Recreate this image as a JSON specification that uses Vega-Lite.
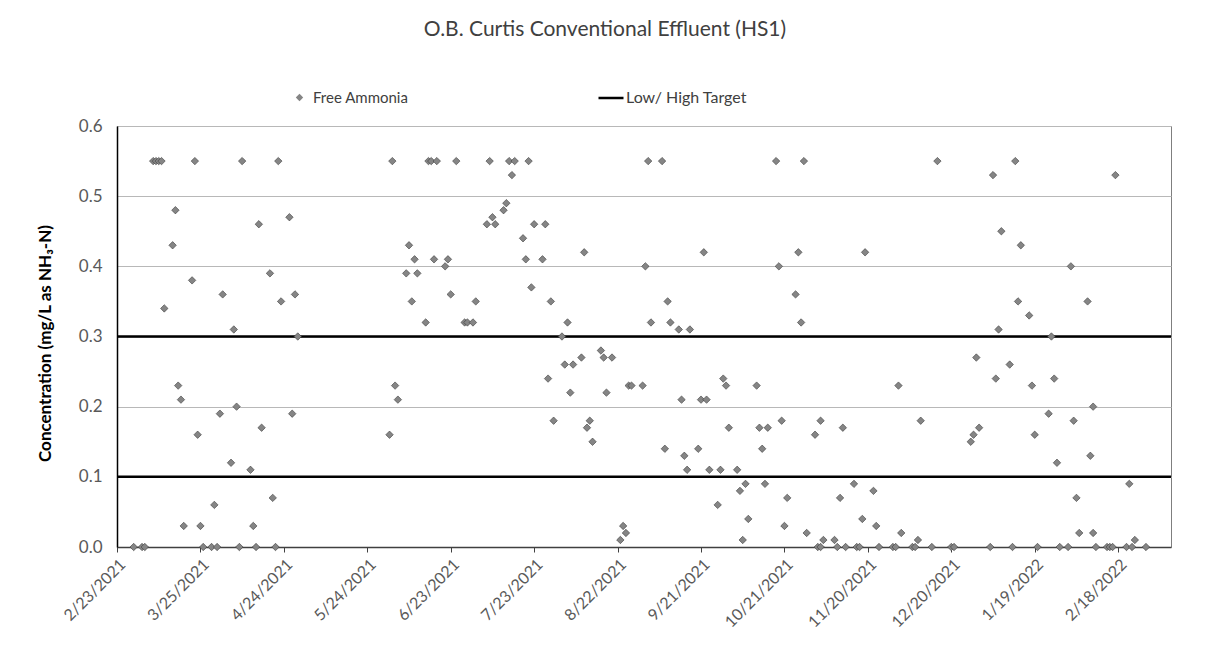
{
  "$schema": "https://vega.github.io/schema/vega-lite/v6.json",
  "width": 1054,
  "height": 421,
  "autosize": {"type": "none"},
  "padding": {"left": 117, "top": 126, "right": 40, "bottom": 108},
  "background": "white",
  "config": {
    "font": "Lato",
    "view": {"stroke": "#7f7f7f", "strokeWidth": 1}
  },
  "title": {
    "text": "O.B. Curtis Conventional Effluent (HS1)",
    "font": "Lato",
    "fontSize": 21,
    "fontWeight": "normal",
    "color": "#404040",
    "anchor": "middle",
    "dx": -39,
    "offset": 44
  },
  "datasets": {
    "targets": [
      {"target": "Low", "value": 0.1},
      {"target": "High", "value": 0.3}
    ],
    "ammonia": [
      {"date": "2021-03-01", "value": 0},
      {"date": "2021-03-04", "value": 0},
      {"date": "2021-03-05", "value": 0},
      {"date": "2021-03-08", "value": 0.55},
      {"date": "2021-03-09", "value": 0.55},
      {"date": "2021-03-10", "value": 0.55},
      {"date": "2021-03-11", "value": 0.55},
      {"date": "2021-03-12", "value": 0.34},
      {"date": "2021-03-15", "value": 0.43},
      {"date": "2021-03-16", "value": 0.48},
      {"date": "2021-03-17", "value": 0.23},
      {"date": "2021-03-18", "value": 0.21},
      {"date": "2021-03-19", "value": 0.03},
      {"date": "2021-03-22", "value": 0.38},
      {"date": "2021-03-23", "value": 0.55},
      {"date": "2021-03-24", "value": 0.16},
      {"date": "2021-03-25", "value": 0.03},
      {"date": "2021-03-26", "value": 0},
      {"date": "2021-03-29", "value": 0},
      {"date": "2021-03-30", "value": 0.06},
      {"date": "2021-03-31", "value": 0},
      {"date": "2021-04-01", "value": 0.19},
      {"date": "2021-04-02", "value": 0.36},
      {"date": "2021-04-05", "value": 0.12},
      {"date": "2021-04-06", "value": 0.31},
      {"date": "2021-04-07", "value": 0.2},
      {"date": "2021-04-08", "value": 0},
      {"date": "2021-04-09", "value": 0.55},
      {"date": "2021-04-12", "value": 0.11},
      {"date": "2021-04-13", "value": 0.03},
      {"date": "2021-04-14", "value": 0},
      {"date": "2021-04-15", "value": 0.46},
      {"date": "2021-04-16", "value": 0.17},
      {"date": "2021-04-19", "value": 0.39},
      {"date": "2021-04-20", "value": 0.07},
      {"date": "2021-04-21", "value": 0},
      {"date": "2021-04-22", "value": 0.55},
      {"date": "2021-04-23", "value": 0.35},
      {"date": "2021-04-26", "value": 0.47},
      {"date": "2021-04-27", "value": 0.19},
      {"date": "2021-04-28", "value": 0.36},
      {"date": "2021-04-29", "value": 0.3},
      {"date": "2021-06-01", "value": 0.16},
      {"date": "2021-06-02", "value": 0.55},
      {"date": "2021-06-03", "value": 0.23},
      {"date": "2021-06-04", "value": 0.21},
      {"date": "2021-06-07", "value": 0.39},
      {"date": "2021-06-08", "value": 0.43},
      {"date": "2021-06-09", "value": 0.35},
      {"date": "2021-06-10", "value": 0.41},
      {"date": "2021-06-11", "value": 0.39},
      {"date": "2021-06-14", "value": 0.32},
      {"date": "2021-06-15", "value": 0.55},
      {"date": "2021-06-16", "value": 0.55},
      {"date": "2021-06-17", "value": 0.41},
      {"date": "2021-06-18", "value": 0.55},
      {"date": "2021-06-21", "value": 0.4},
      {"date": "2021-06-22", "value": 0.41},
      {"date": "2021-06-23", "value": 0.36},
      {"date": "2021-06-25", "value": 0.55},
      {"date": "2021-06-28", "value": 0.32},
      {"date": "2021-06-29", "value": 0.32},
      {"date": "2021-07-01", "value": 0.32},
      {"date": "2021-07-02", "value": 0.35},
      {"date": "2021-07-06", "value": 0.46},
      {"date": "2021-07-07", "value": 0.55},
      {"date": "2021-07-08", "value": 0.47},
      {"date": "2021-07-09", "value": 0.46},
      {"date": "2021-07-12", "value": 0.48},
      {"date": "2021-07-13", "value": 0.49},
      {"date": "2021-07-14", "value": 0.55},
      {"date": "2021-07-15", "value": 0.53},
      {"date": "2021-07-16", "value": 0.55},
      {"date": "2021-07-19", "value": 0.44},
      {"date": "2021-07-20", "value": 0.41},
      {"date": "2021-07-21", "value": 0.55},
      {"date": "2021-07-22", "value": 0.37},
      {"date": "2021-07-23", "value": 0.46},
      {"date": "2021-07-26", "value": 0.41},
      {"date": "2021-07-27", "value": 0.46},
      {"date": "2021-07-28", "value": 0.24},
      {"date": "2021-07-29", "value": 0.35},
      {"date": "2021-07-30", "value": 0.18},
      {"date": "2021-08-02", "value": 0.3},
      {"date": "2021-08-03", "value": 0.26},
      {"date": "2021-08-04", "value": 0.32},
      {"date": "2021-08-05", "value": 0.22},
      {"date": "2021-08-06", "value": 0.26},
      {"date": "2021-08-09", "value": 0.27},
      {"date": "2021-08-10", "value": 0.42},
      {"date": "2021-08-11", "value": 0.17},
      {"date": "2021-08-12", "value": 0.18},
      {"date": "2021-08-13", "value": 0.15},
      {"date": "2021-08-16", "value": 0.28},
      {"date": "2021-08-17", "value": 0.27},
      {"date": "2021-08-18", "value": 0.22},
      {"date": "2021-08-20", "value": 0.27},
      {"date": "2021-08-23", "value": 0.01},
      {"date": "2021-08-24", "value": 0.03},
      {"date": "2021-08-25", "value": 0.02},
      {"date": "2021-08-26", "value": 0.23},
      {"date": "2021-08-27", "value": 0.23},
      {"date": "2021-08-31", "value": 0.23},
      {"date": "2021-09-01", "value": 0.4},
      {"date": "2021-09-02", "value": 0.55},
      {"date": "2021-09-03", "value": 0.32},
      {"date": "2021-09-07", "value": 0.55},
      {"date": "2021-09-08", "value": 0.14},
      {"date": "2021-09-09", "value": 0.35},
      {"date": "2021-09-10", "value": 0.32},
      {"date": "2021-09-13", "value": 0.31},
      {"date": "2021-09-14", "value": 0.21},
      {"date": "2021-09-15", "value": 0.13},
      {"date": "2021-09-16", "value": 0.11},
      {"date": "2021-09-17", "value": 0.31},
      {"date": "2021-09-20", "value": 0.14},
      {"date": "2021-09-21", "value": 0.21},
      {"date": "2021-09-22", "value": 0.42},
      {"date": "2021-09-23", "value": 0.21},
      {"date": "2021-09-24", "value": 0.11},
      {"date": "2021-09-27", "value": 0.06},
      {"date": "2021-09-28", "value": 0.11},
      {"date": "2021-09-29", "value": 0.24},
      {"date": "2021-09-30", "value": 0.23},
      {"date": "2021-10-01", "value": 0.17},
      {"date": "2021-10-04", "value": 0.11},
      {"date": "2021-10-05", "value": 0.08},
      {"date": "2021-10-06", "value": 0.01},
      {"date": "2021-10-07", "value": 0.09},
      {"date": "2021-10-08", "value": 0.04},
      {"date": "2021-10-11", "value": 0.23},
      {"date": "2021-10-12", "value": 0.17},
      {"date": "2021-10-13", "value": 0.14},
      {"date": "2021-10-14", "value": 0.09},
      {"date": "2021-10-15", "value": 0.17},
      {"date": "2021-10-18", "value": 0.55},
      {"date": "2021-10-19", "value": 0.4},
      {"date": "2021-10-20", "value": 0.18},
      {"date": "2021-10-21", "value": 0.03},
      {"date": "2021-10-22", "value": 0.07},
      {"date": "2021-10-25", "value": 0.36},
      {"date": "2021-10-26", "value": 0.42},
      {"date": "2021-10-27", "value": 0.32},
      {"date": "2021-10-28", "value": 0.55},
      {"date": "2021-10-29", "value": 0.02},
      {"date": "2021-11-01", "value": 0.16},
      {"date": "2021-11-02", "value": 0},
      {"date": "2021-11-03", "value": 0.18},
      {"date": "2021-11-03", "value": 0},
      {"date": "2021-11-04", "value": 0.01},
      {"date": "2021-11-08", "value": 0.01},
      {"date": "2021-11-09", "value": 0},
      {"date": "2021-11-10", "value": 0.07},
      {"date": "2021-11-11", "value": 0.17},
      {"date": "2021-11-12", "value": 0},
      {"date": "2021-11-15", "value": 0.09},
      {"date": "2021-11-16", "value": 0},
      {"date": "2021-11-17", "value": 0},
      {"date": "2021-11-18", "value": 0.04},
      {"date": "2021-11-19", "value": 0.42},
      {"date": "2021-11-22", "value": 0.08},
      {"date": "2021-11-23", "value": 0.03},
      {"date": "2021-11-24", "value": 0},
      {"date": "2021-11-29", "value": 0},
      {"date": "2021-11-30", "value": 0},
      {"date": "2021-12-01", "value": 0.23},
      {"date": "2021-12-02", "value": 0.02},
      {"date": "2021-12-06", "value": 0},
      {"date": "2021-12-07", "value": 0},
      {"date": "2021-12-08", "value": 0.01},
      {"date": "2021-12-09", "value": 0.18},
      {"date": "2021-12-13", "value": 0},
      {"date": "2021-12-15", "value": 0.55},
      {"date": "2021-12-20", "value": 0},
      {"date": "2021-12-21", "value": 0},
      {"date": "2021-12-27", "value": 0.15},
      {"date": "2021-12-28", "value": 0.16},
      {"date": "2021-12-29", "value": 0.27},
      {"date": "2021-12-30", "value": 0.17},
      {"date": "2022-01-03", "value": 0},
      {"date": "2022-01-04", "value": 0.53},
      {"date": "2022-01-05", "value": 0.24},
      {"date": "2022-01-06", "value": 0.31},
      {"date": "2022-01-07", "value": 0.45},
      {"date": "2022-01-10", "value": 0.26},
      {"date": "2022-01-11", "value": 0},
      {"date": "2022-01-12", "value": 0.55},
      {"date": "2022-01-13", "value": 0.35},
      {"date": "2022-01-14", "value": 0.43},
      {"date": "2022-01-17", "value": 0.33},
      {"date": "2022-01-18", "value": 0.23},
      {"date": "2022-01-19", "value": 0.16},
      {"date": "2022-01-20", "value": 0},
      {"date": "2022-01-24", "value": 0.19},
      {"date": "2022-01-25", "value": 0.3},
      {"date": "2022-01-26", "value": 0.24},
      {"date": "2022-01-27", "value": 0.12},
      {"date": "2022-01-28", "value": 0},
      {"date": "2022-01-31", "value": 0},
      {"date": "2022-02-01", "value": 0.4},
      {"date": "2022-02-02", "value": 0.18},
      {"date": "2022-02-03", "value": 0.07},
      {"date": "2022-02-04", "value": 0.02},
      {"date": "2022-02-07", "value": 0.35},
      {"date": "2022-02-08", "value": 0.13},
      {"date": "2022-02-09", "value": 0.02},
      {"date": "2022-02-09", "value": 0.2},
      {"date": "2022-02-10", "value": 0},
      {"date": "2022-02-14", "value": 0},
      {"date": "2022-02-15", "value": 0},
      {"date": "2022-02-16", "value": 0},
      {"date": "2022-02-17", "value": 0.53},
      {"date": "2022-02-21", "value": 0},
      {"date": "2022-02-22", "value": 0.09},
      {"date": "2022-02-23", "value": 0},
      {"date": "2022-02-24", "value": 0.01},
      {"date": "2022-02-28", "value": 0}
    ]
  },
  "encoding": {
    "y": {
      "field": "value",
      "type": "quantitative",
      "scale": {"domain": [0, 0.6], "nice": false, "zero": true},
      "axis": {
        "values": [0, 0.1, 0.2, 0.3, 0.4, 0.5, 0.6],
        "format": ".1f",
        "title": "Concentration (mg/L as NH₃-N)",
        "titleFont": "Lato",
        "titleFontSize": 17,
        "titleFontWeight": "bold",
        "titleColor": "#000000",
        "titleAngle": -90,
        "titleX": -72,
        "titleY": 217,
        "titleAlign": "center",
        "titleBaseline": "middle",
        "labelFont": "Lato",
        "labelFontSize": 17,
        "labelColor": "#595959",
        "labelPadding": 15,
        "ticks": false,
        "domainColor": "#000000",
        "domainWidth": 1.5,
        "gridColor": "#b8b8b8",
        "gridWidth": 1
      }
    }
  },
  "layer": [
    {
      "data": {"name": "targets"},
      "mark": {"type": "rule", "color": "#000000", "strokeWidth": 2.5},
      "encoding": {
        "strokeDash": {
          "datum": "Low/ High Target",
          "scale": {"range": [[1, 0]]},
          "legend": {
            "orient": "none",
            "legendX": 480,
            "legendY": -42,
            "title": null,
            "padding": 0,
            "symbolType": "stroke",
            "symbolSize": 625,
            "symbolStrokeColor": "#000000",
            "symbolStrokeWidth": 2.5,
            "labelFont": "Lato",
            "labelFontSize": 16,
            "labelColor": "#404040",
            "labelOffset": 1
          }
        }
      }
    },
    {
      "data": {"name": "ammonia"},
      "mark": {
        "type": "point",
        "shape": "diamond",
        "filled": true,
        "fill": "#858585",
        "stroke": "#3a3a3a",
        "strokeWidth": 0.6,
        "size": 55,
        "opacity": 1
      },
      "encoding": {
        "x": {
          "field": "date",
          "type": "temporal",
          "scale": {
            "type": "utc",
            "domain": [
              {"year": 2021, "month": 2, "date": 23, "utc": true},
              {"year": 2022, "month": 3, "date": 9, "utc": true}
            ]
          },
          "axis": {
            "values": [
              {"year": 2021, "month": 2, "date": 23, "utc": true},
              {"year": 2021, "month": 3, "date": 25, "utc": true},
              {"year": 2021, "month": 4, "date": 24, "utc": true},
              {"year": 2021, "month": 5, "date": 24, "utc": true},
              {"year": 2021, "month": 6, "date": 23, "utc": true},
              {"year": 2021, "month": 7, "date": 23, "utc": true},
              {"year": 2021, "month": 8, "date": 22, "utc": true},
              {"year": 2021, "month": 9, "date": 21, "utc": true},
              {"year": 2021, "month": 10, "date": 21, "utc": true},
              {"year": 2021, "month": 11, "date": 20, "utc": true},
              {"year": 2021, "month": 12, "date": 20, "utc": true},
              {"year": 2022, "month": 1, "date": 19, "utc": true},
              {"year": 2022, "month": 2, "date": 18, "utc": true}
            ],
            "format": "%-m/%-d/%Y",
            "title": null,
            "grid": false,
            "labelAngle": -45,
            "labelFont": "Lato",
            "labelFontSize": 16,
            "labelColor": "#595959",
            "labelPadding": 4,
            "tickSize": 5,
            "tickColor": "#404040",
            "domainColor": "#404040",
            "domainWidth": 1.5
          }
        },
        "shape": {
          "datum": "Free Ammonia",
          "scale": {"range": ["diamond"]},
          "legend": {
            "orient": "none",
            "legendX": 175,
            "legendY": -36,
            "title": null,
            "padding": 0,
            "symbolType": "diamond",
            "symbolSize": 55,
            "symbolFillColor": "#858585",
            "symbolStrokeColor": "#3a3a3a",
            "symbolStrokeWidth": 0.6,
            "labelFont": "Lato",
            "labelFontSize": 15,
            "labelColor": "#404040",
            "labelOffset": 6
          }
        }
      }
    }
  ]
}
